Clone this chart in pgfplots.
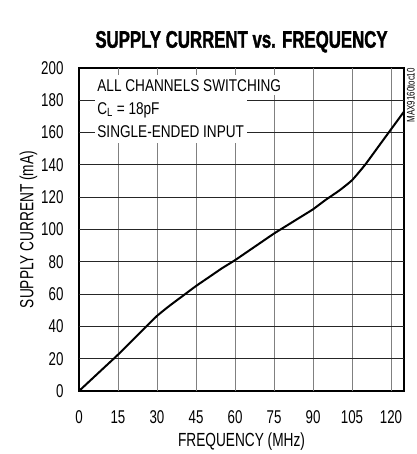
\documentclass[border=0pt]{standalone}
\usepackage{fontspec}
\setmainfont[FakeStretch=0.72]{Liberation Sans}
\newfontfamily\boxfont[FakeStretch=0.8]{Liberation Sans}
\newfontfamily\titlefont[FakeStretch=0.7,FakeBold=1.5]{Liberation Sans Bold}
\usepackage{pgfplots}
\pgfplotsset{compat=1.18}
\begin{document}
\begin{tikzpicture}
\begin{axis}[
  width=325pt, height=323pt, scale only axis,
  xmin=0, xmax=125, ymin=0, ymax=200,
  xtick={0,15,30,45,60,75,90,105,120},
  ytick={0,20,40,60,80,100,120,140,160,180,200},
  major tick length=0pt,
  axis line style={line width=2pt, black},
  /pgf/number format/assume math mode=true,
  tick label style={font=\fontsize{18.5}{21}\selectfont},
  xticklabel style={yshift=-16pt},
  yticklabel style={xshift=-12pt},
  xlabel={FREQUENCY (MHz)},
  ylabel={SUPPLY CURRENT (mA)},
  label style={font=\fontsize{19}{21}\selectfont},
  xlabel style={yshift=-2pt},
  ylabel style={yshift=-3pt},
  title={\titlefont\fontsize{24}{26}\selectfont SUPPLY CURRENT vs. FREQUENCY},
  title style={yshift=6pt},
  clip=true,
]
% vertical grid lines
\foreach \xv in {15,30,45,60,75,90,105,120} {
  \edef\tmp{\noexpand\draw[black!50, line width=1pt] (axis cs:\xv,0) -- (axis cs:\xv,200);}
  \tmp
}
% horizontal grid lines
\foreach \yv in {20,40,60,80,100,120,140,160,180} {
  \edef\tmp{\noexpand\draw[black!85, line width=1pt] (axis cs:0,\yv) -- (axis cs:125,\yv);}
  \tmp
}
\fill[white] (axis cs:6.1,195.5) rectangle (axis cs:64.6,153.5);
\fill[white] (axis cs:6.1,195.5) rectangle (axis cs:79.5,183.5);
\node[anchor=west, inner sep=0pt, font=\boxfont\fontsize{17}{19}\selectfont] at (axis cs:7,189) {ALL CHANNELS SWITCHING};
\node[anchor=west, inner sep=0pt, font=\boxfont\fontsize{17}{19}\selectfont] at (axis cs:7,174) {C\textsubscript{L} = 18pF};
\node[anchor=west, inner sep=0pt, font=\boxfont\fontsize{17}{19}\selectfont] at (axis cs:7,160.7) {SINGLE-ENDED INPUT};
\addplot[black, line width=2pt, smooth, tension=0.3] coordinates {
(0,0) (5,7.5) (10,15) (15,22.5) (20,30.5) (25,38.5) (30,46.5) (35,53) (40,59) (45,65) (50,70.5) (55,76) (60,81) (65,86.5) (70,92) (75,97.5) (80,102.5) (85,107.5) (90,112.5) (95,118.5) (100,124) (105,130.5) (110,140) (115,151) (120,162) (125,173)
};
\end{axis}
\node[rotate=90, anchor=south east, font=\fontsize{11}{12}\selectfont, inner sep=0pt] at ([xshift=11pt]current axis.north east) {MAX9160toc10};
\path ([shift={(-79pt,-63pt)}]current axis.south west) rectangle ([shift={(12pt,68pt)}]current axis.north east);
\end{tikzpicture}
\end{document}
